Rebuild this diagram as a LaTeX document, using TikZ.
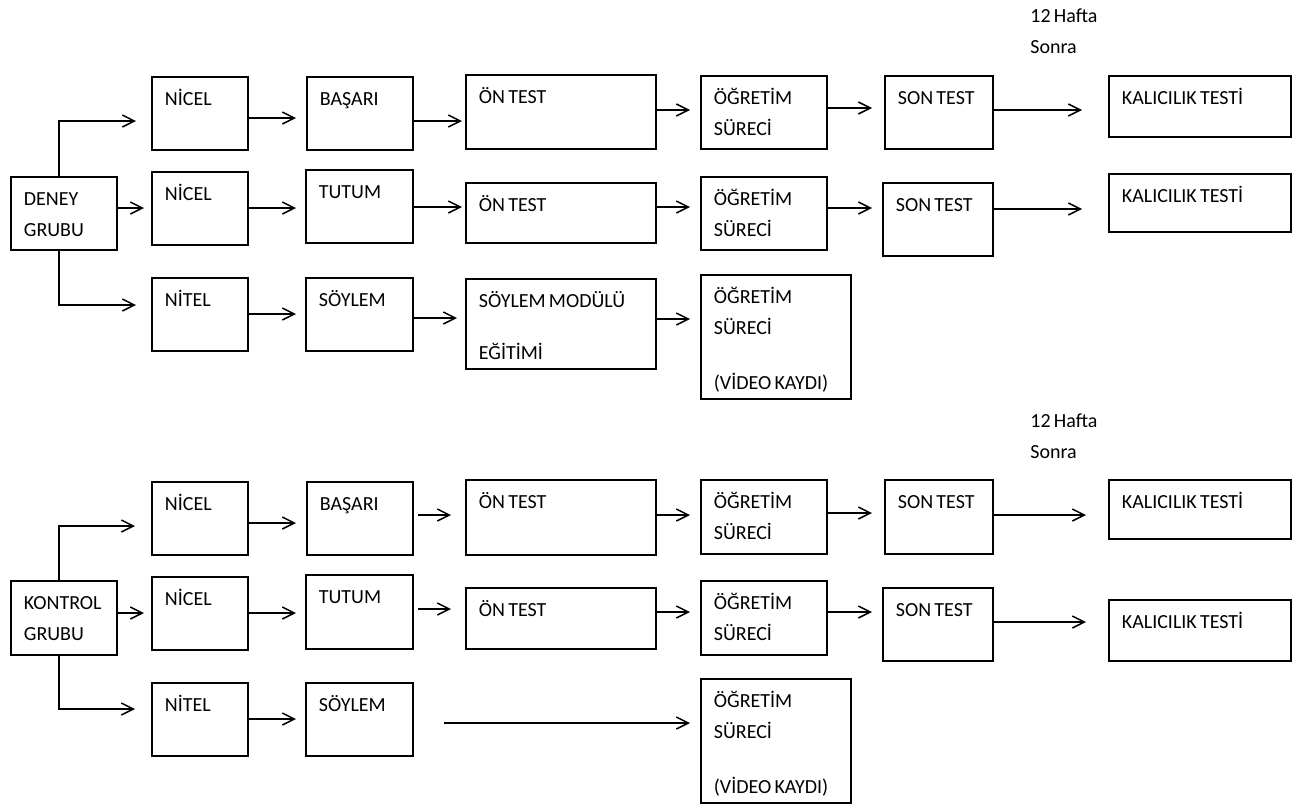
\documentclass[tikz,border=0pt]{standalone}
\usepackage{fontspec}
\setmainfont{Carlito}
\usetikzlibrary{arrows.meta}

\begin{document}
\begin{tikzpicture}[x=0.5pt,y=-0.5pt,
  kutu/.style={draw=black, line width=0.9pt, anchor=north west, align=left,
    inner xsep=6.5pt, inner ysep=0pt, text height=14.5pt,
    font=\fontsize{10}{15.5}\selectfont,
    execute at begin node={\spaceskip=1.6pt plus 0.5pt\relax}},
  yazi/.style={anchor=north west, align=left, inner sep=0pt, text width=50pt,
    text height=7.25pt, font=\fontsize{10}{15.5}\selectfont,
    execute at begin node={\spaceskip=1.6pt plus 0.5pt\relax}},
  ok/.style={draw=black, line width=0.75pt, -{Straight Barb[length=6pt,width=6pt]}}]

  \useasboundingbox (0,0) rectangle (1299,804);
  \node[kutu, text width=40pt, text depth=22pt] (deney) at (10,176) {DENEY\\GRUBU};
  \node[kutu, text width=35pt, text depth=22pt] (nicelD1) at (151,76) {NİCEL};
  \node[kutu, text width=35pt, text depth=22pt] (nicelD2) at (151,171) {NİCEL};
  \node[kutu, text width=35pt, text depth=22pt] (nitelD) at (151,277) {NİTEL};
  \node[kutu, text width=40pt, text depth=22pt] (basariD) at (306,76) {BAŞARI};
  \node[kutu, text width=40.5pt, text depth=22pt] (tutumD) at (305,169) {TUTUM};
  \node[kutu, text width=40.5pt, text depth=22pt] (soylemD) at (305,277) {SÖYLEM};
  \node[kutu, text width=82pt, text depth=22.5pt] (ontestD1) at (465,74) {ÖN TEST};
  \node[kutu, text width=82pt, text depth=15.5pt] (ontestD2) at (465,182) {ÖN TEST};
  \node[kutu, text width=82pt, text depth=30.5pt] (modulD) at (465,278) {SÖYLEM MODÜLÜ\\[10.5pt]EĞİTİMİ};
  \node[kutu, text width=50pt, text depth=22pt] (ogretimD1) at (700,75) {ÖĞRETİM\\SÜRECİ};
  \node[kutu, text width=50pt, text depth=22pt] (ogretimD2) at (700,176) {ÖĞRETİM\\SÜRECİ};
  \node[kutu, text width=62pt, text depth=47.5pt] (ogretimD3) at (700,274) {ÖĞRETİM\\SÜRECİ\\[12pt](VİDEO KAYDI)};
  \node[kutu, text width=41pt, text depth=22pt] (sontestD1) at (884,75) {SON TEST};
  \node[kutu, text width=42pt, text depth=22pt] (sontestD2) at (882,182) {SON TEST};
  \node[kutu, text width=78pt, text depth=16pt] (kalicilikD1) at (1108,75) {KALICILIK TESTİ};
  \node[kutu, text width=78pt, text depth=14.5pt] (kalicilikD2) at (1108,173) {KALICILIK TESTİ};
  \node[yazi] (haftaD) at (1030,8) {12 Hafta\\Sonra};

  \node[kutu, text width=40pt, text depth=22.5pt] (kontrol) at (10,580) {KONTROL\\GRUBU};
  \node[kutu, text width=35pt, text depth=22pt] (nicelK1) at (151,481) {NİCEL};
  \node[kutu, text width=35pt, text depth=22pt] (nicelK2) at (151,576) {NİCEL};
  \node[kutu, text width=35pt, text depth=22pt] (nitelK) at (151,682) {NİTEL};
  \node[kutu, text width=40pt, text depth=22pt] (basariK) at (306,481) {BAŞARI};
  \node[kutu, text width=40.5pt, text depth=22.5pt] (tutumK) at (305,574) {TUTUM};
  \node[kutu, text width=40.5pt, text depth=22pt] (soylemK) at (305,682) {SÖYLEM};
  \node[kutu, text width=82pt, text depth=23pt] (ontestK1) at (465,479) {ÖN TEST};
  \node[kutu, text width=82pt, text depth=16pt] (ontestK2) at (465,587) {ÖN TEST};
  \node[kutu, text width=50pt, text depth=22.5pt] (ogretimK1) at (700,479) {ÖĞRETİM\\SÜRECİ};
  \node[kutu, text width=50pt, text depth=22.5pt] (ogretimK2) at (700,580) {ÖĞRETİM\\SÜRECİ};
  \node[kutu, text width=62pt, text depth=47.5pt] (ogretimK3) at (700,678) {ÖĞRETİM\\SÜRECİ\\[12pt](VİDEO KAYDI)};
  \node[kutu, text width=41pt, text depth=22.5pt] (sontestK1) at (884,479) {SON TEST};
  \node[kutu, text width=42pt, text depth=22pt] (sontestK2) at (882,587) {SON TEST};
  \node[kutu, text width=78pt, text depth=15pt] (kalicilikK1) at (1108,479) {KALICILIK TESTİ};
  \node[kutu, text width=78pt, text depth=16pt] (kalicilikK2) at (1108,599) {KALICILIK TESTİ};
  \node[yazi] (haftaK) at (1030,413) {12 Hafta\\Sonra};

  \draw[ok, shorten >=7.5pt] (deney.north -| 59,0) |- (nicelD1.west |- 0,121);
  \draw[ok, shorten >=3.5pt] (deney.east |- 0,208) -- (nicelD2.west |- 0,208);
  \draw[ok, shorten >=7.5pt] (deney.south -| 59,0) |- (nitelD.west |- 0,305);
  \draw[ok, shorten >=5pt] (nicelD1.east |- 0,118) -- (basariD.west |- 0,118);
  \draw[ok, shorten >=4.5pt] (nicelD2.east |- 0,208) -- (tutumD.west |- 0,208);
  \draw[ok, shorten >=4.5pt] (nitelD.east |- 0,314) -- (soylemD.west |- 0,314);
  \draw[ok, shorten >=1.5pt] (basariD.east |- 0,121) -- (ontestD1.west |- 0,121);
  \draw[ok, shorten >=1.5pt] (tutumD.east |- 0,207) -- (ontestD2.west |- 0,207);
  \draw[ok, shorten >=4pt] (soylemD.east |- 0,318) -- (modulD.west |- 0,318);
  \draw[ok, shorten >=5pt] (ontestD1.east |- 0,110) -- (ogretimD1.west |- 0,110);
  \draw[ok, shorten >=5pt] (ontestD2.east |- 0,207) -- (ogretimD2.west |- 0,207);
  \draw[ok, shorten >=5pt] (modulD.east |- 0,319) -- (ogretimD3.west |- 0,319);
  \draw[ok, shorten >=6pt] (ogretimD1.east |- 0,108) -- (sontestD1.west |- 0,108);
  \draw[ok, shorten >=5pt] (ogretimD2.east |- 0,208) -- (sontestD2.west |- 0,208);
  \draw[ok, shorten >=13pt] (sontestD1.east |- 0,110) -- (kalicilikD1.west |- 0,110);
  \draw[ok, shorten >=13pt] (sontestD2.east |- 0,209) -- (kalicilikD2.west |- 0,209);

  \draw[ok, shorten >=8pt] (kontrol.north -| 59,0) |- (nicelK1.west |- 0,526);
  \draw[ok, shorten >=3.5pt] (kontrol.east |- 0,613) -- (nicelK2.west |- 0,613);
  \draw[ok, shorten >=8pt] (kontrol.south -| 59,0) |- (nitelK.west |- 0,709);
  \draw[ok, shorten >=5pt] (nicelK1.east |- 0,523) -- (basariK.west |- 0,523);
  \draw[ok, shorten >=4.5pt] (nicelK2.east |- 0,613) -- (tutumK.west |- 0,613);
  \draw[ok, shorten >=4.5pt] (nitelK.east |- 0,719) -- (soylemK.west |- 0,719);
  \draw[ok, shorten <=2pt, shorten >=7pt] (basariK.east |- 0,515) -- (ontestK1.west |- 0,515);
  \draw[ok, shorten <=2pt, shorten >=7pt] (tutumK.east |- 0,609) -- (ontestK2.west |- 0,609);
  \draw[ok, shorten <=15pt, shorten >=5pt] (soylemK.east |- 0,723) -- (ogretimK3.west |- 0,723);
  \draw[ok, shorten >=5pt] (ontestK1.east |- 0,515) -- (ogretimK1.west |- 0,515);
  \draw[ok, shorten >=5pt] (ontestK2.east |- 0,612) -- (ogretimK2.west |- 0,612);
  \draw[ok, shorten >=6pt] (ogretimK1.east |- 0,513) -- (sontestK1.west |- 0,513);
  \draw[ok, shorten >=5pt] (ogretimK2.east |- 0,612) -- (sontestK2.west |- 0,612);
  \draw[ok, shorten >=11pt] (sontestK1.east |- 0,515) -- (kalicilikK1.west |- 0,515);
  \draw[ok, shorten >=11pt] (sontestK2.east |- 0,622) -- (kalicilikK2.west |- 0,622);

\end{tikzpicture}
\end{document}
